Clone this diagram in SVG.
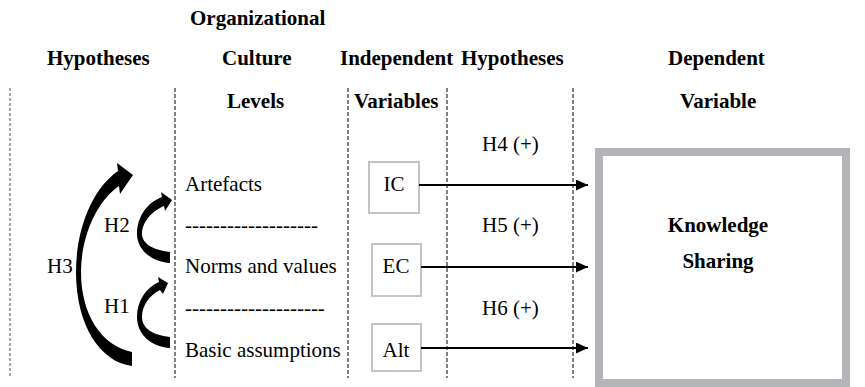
<svg xmlns="http://www.w3.org/2000/svg" width="865" height="387" viewBox="0 0 865 387">
<defs>
<style>
text{font-family:'Liberation Serif',Tinos,'Times New Roman',Times,'Noto Serif','DejaVu Serif',serif;font-size:21px;fill:#000}
.b{font-weight:bold}
.m{text-anchor:middle}
.sep{stroke:#000;stroke-width:1;stroke-dasharray:4 2;fill:none}
.sepg{stroke:#8a8a8a;stroke-width:1.5;stroke-dasharray:3 2;fill:none}
.box{fill:#fff;stroke:#c4c4c4;stroke-width:2}
.conn{stroke:#000;stroke-width:2;fill:none}
</style>
<marker id="ah" markerWidth="12" markerHeight="11" refX="12" refY="5.5" orient="auto" markerUnits="userSpaceOnUse">
<path d="M0,0 L12,5.5 L0,11 Z" fill="#000"/>
</marker>
</defs>
<rect width="865" height="387" fill="#fff"/>
<g id="headers" font-family="Liberation Serif, serif">
<text class="b" x="190" y="25">Organizational</text>
<text class="b" x="47" y="65">Hypotheses</text>
<text class="b" x="222" y="65">Culture</text>
<text class="b" x="340" y="65">Independent</text>
<text class="b" x="461" y="65">Hypotheses</text>
<text class="b" x="668" y="65">Dependent</text>
<text class="b" x="227" y="108">Levels</text>
<text class="b" x="354" y="108">Variables</text>
<text class="b" x="680" y="108">Variable</text>
</g>
<g id="separators">
<line class="sepg" x1="10" y1="88" x2="10" y2="378"/>
<line class="sep" x1="175" y1="88" x2="175" y2="378"/>
<line class="sep" x1="348" y1="88" x2="348" y2="378"/>
<line class="sep" x1="447" y1="88" x2="447" y2="378"/>
<line class="sep" x1="573" y1="88" x2="573" y2="378"/>
</g>
<g id="culture-levels">
<text x="185" y="191">Artefacts</text>
<text x="185" y="232">-------------------</text>
<text x="185" y="273">Norms and values</text>
<text x="185" y="315">--------------------</text>
<text x="185" y="357">Basic assumptions</text>
</g>
<g id="node-IC">
<rect class="box" x="369" y="162" width="50" height="51"/>
<text class="m" x="394" y="191">IC</text>
</g>
<g id="node-EC">
<rect class="box" x="372" y="244" width="49" height="52"/>
<text class="m" x="396" y="273">EC</text>
</g>
<g id="node-Alt">
<rect class="box" x="372" y="324" width="49" height="47"/>
<text class="m" x="396" y="357">Alt</text>
</g>
<g id="node-KS">
<rect x="599" y="152" width="247" height="231" fill="#fff" stroke="#b4b5b8" stroke-width="8"/>
<text class="b m" x="718" y="232">Knowledge</text>
<text class="b m" x="718" y="268">Sharing</text>
</g>
<g id="connectors">
<line class="conn" x1="419" y1="185" x2="588" y2="185" marker-end="url(#ah)"/>
<line class="conn" x1="421" y1="267" x2="588" y2="267" marker-end="url(#ah)"/>
<line class="conn" x1="421" y1="348" x2="588" y2="348" marker-end="url(#ah)"/>
<path id="H3-arrow" fill="#000" d="M132,352 C102,346 81,315 81,272 C81,235 98,200 119,186 L120,194 L133,175 L117,163 L118,171 C93,188 76,228 76,272 C76,325 100,362 132,366 Z"/>
<path id="H2-arrow" fill="#000" d="M170,252 C152,250 142,243 142,234 C142,222 152,211 164,206 L165,211 L172,200 L161,192 L162,197 C146,203 137,218 137,234 C137,250 152,262 170,263 Z"/>
<path id="H1-arrow" fill="#000" d="M170,337 C152,335 142,328 142,317 C142,305 150,295 160,290 L163,294 L168,283 L158,277 L159,282 C145,288 137,302 137,317 C137,335 152,347 170,348 Z"/>
</g>
<g id="labels">
<text x="482" y="151">H4 (+)</text>
<text x="482" y="232">H5 (+)</text>
<text x="482" y="315">H6 (+)</text>
<text x="47" y="273">H3</text>
<text x="104" y="232">H2</text>
<text x="104" y="313">H1</text>
</g>
</svg>
